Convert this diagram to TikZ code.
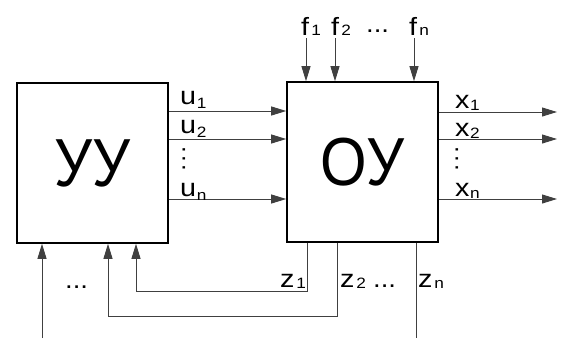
\documentclass[tikz,border=0pt]{standalone}
\usepackage{fontspec}
\setmainfont{Liberation Sans}
\usetikzlibrary{arrows.meta}
\newcommand\lbsub[4][-3pt]{\scalebox{1.15}[1]{#2\kern#4{\fontsize{15}{15}\selectfont\raisebox{#1}{#3}}}}
\newcommand\vdts{\rotatebox{-90}{.\kern2.2pt.\kern2.2pt.}}
\begin{document}
\begin{tikzpicture}[x=1pt,y=-1pt,
  box/.style={draw=black,line width=1.6pt,inner sep=0pt},
  big/.style={font=\fontsize{68}{68}\selectfont},
  wire/.style={draw=black!75,line width=1pt},
  arr/.style={wire,-{Triangle[length=15pt,width=9pt]}},
  lab/.style={anchor=base west,inner sep=0pt,font=\fontsize{25}{25}\selectfont},
  vd/.style={inner sep=0pt,font=\fontsize{24}{24}\selectfont}]
\useasboundingbox (0,0) rectangle (566,338);
\node[box,minimum width=151pt,minimum height=160pt] (uu) at (92.5,163) {};
\node[big] (uut) at (uu) {\scalebox{0.88}[1]{УУ}};
\node[box,minimum width=151pt,minimum height=160pt] (ou) at (362.5,162) {};
\node[big] (out) at (ou) {\scalebox{0.88}[1]{ОУ}};
% u arrows
\foreach \y in {111,139,199} \draw[arr] (uu.east |- 0,\y) -- (ou.west |- 0,\y);
% x arrows
\coordinate (xe1) at (557,112);
\coordinate (xe2) at (557,139);
\coordinate (xe3) at (557,199);
\foreach \i in {1,2,3} \draw[arr] (ou.east |- xe\i) -- (xe\i);
% f arrows
\coordinate (fs1) at (306,38);
\coordinate (fs2) at (335,38);
\coordinate (fs3) at (414,38);
\foreach \i in {1,2,3} \draw[arr] (fs\i) -- (ou.north -| fs\i);
% feedback
\coordinate (b1) at (136,291);
\coordinate (b2) at (108,316);
\draw[arr] (ou.south -| 307,0) -- (307,291) -- (b1) -- (uu.south -| b1);
\draw[arr] (ou.south -| 337,0) -- (337,316) -- (b2) -- (uu.south -| b2);
\coordinate (zn) at (416,338);
\draw[wire] (ou.south -| zn) -- (zn);
\coordinate (in1) at (42,338);
\draw[arr] (in1) -- (uu.south -| in1);
% labels
\node[lab] (lu1) at (180,104) {\lbsub[-4pt]{u}{1}{0.5pt}};
\node[lab] (lu2) at (180,133) {\lbsub[-4pt]{u}{2}{0.5pt}};
\node[vd] (lud) at (184,159) {\vdts};
\node[lab] (lun) at (180,196) {\lbsub[-4pt]{u}{n}{0.5pt}};
\node[lab] (lx1) at (455,108) {\lbsub[-2pt]{x}{1}{0.5pt}};
\node[lab] (lx2) at (455,136) {\lbsub[-2pt]{x}{2}{0.5pt}};
\node[vd] (lxd) at (457,159) {\vdts};
\node[lab] (lxn) at (455,196) {\lbsub[-2pt]{x}{n}{0.5pt}};
\node[lab] (lf1) at (301,35) {\lbsub[0pt]{f}{1}{2pt}};
\node[lab] (lf2) at (331,35) {\lbsub[0pt]{f}{2}{2pt}};
\node[lab] (lfd) at (366,32) {\scalebox{1.1}[1]{...}};
\node[lab] (lfn) at (409,35) {\lbsub[0pt]{f}{n}{2pt}};
\node[lab] (lz1) at (280,287) {\lbsub[-1pt]{z}{1}{1.5pt}};
\node[lab] (lz2) at (340,287) {\lbsub[-1pt]{z}{2}{1.5pt}};
\node[lab] (lz2d) at (373,287) {\scalebox{1.1}[1]{...}};
\node[lab] (lzn) at (418,287) {\lbsub[-1pt]{z}{n}{1.5pt}};
\node[lab] (ld) at (65,288) {\scalebox{1.1}[1]{...}};
\end{tikzpicture}
\end{document}
